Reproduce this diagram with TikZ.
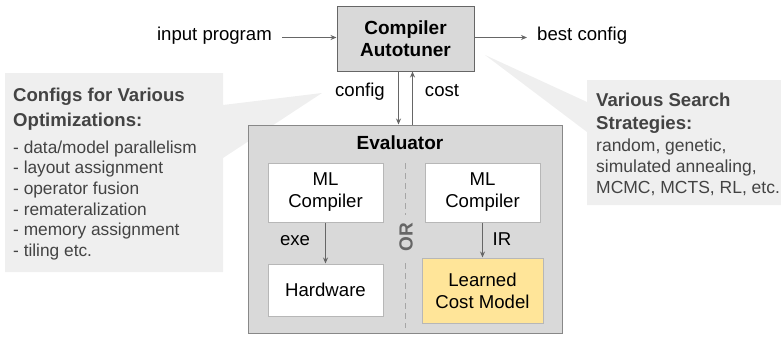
\documentclass[tikz,border=0pt]{standalone}
\usepackage{fontspec}
\setmainfont{Liberation Sans}
\usetikzlibrary{arrows.meta}

\definecolor{boxgray}{HTML}{D9D9D9}
\definecolor{boxline}{HTML}{666666}
\definecolor{evalline}{HTML}{888888}
\definecolor{innerline}{HTML}{B7B7B7}
\definecolor{callgray}{HTML}{EFEFEF}
\definecolor{calltext}{HTML}{434343}
\definecolor{wiregray}{HTML}{666666}
\definecolor{costyellow}{HTML}{FFE599}

\newcommand{\lblfont}{\fontsize{18.6}{22}\selectfont}
\newcommand{\titlefont}{\fontsize{19}{22}\selectfont\bfseries}
\newcommand{\listfont}{\fontsize{17.3}{20.7}\selectfont}

\begin{document}
\begin{tikzpicture}[x=1pt,y=-1pt,
    box/.style={draw=boxline, fill=boxgray, line width=1pt, align=center, inner sep=0pt, font=\lblfont},
    inbox/.style={box, fill=white, draw=innerline, minimum width=115pt},
    wire/.style={draw=wiregray, line width=1pt, -{Stealth[length=6pt,width=5pt]}},
    lbl/.style={font=\lblfont, inner sep=0pt},
    calltxt/.style={inner sep=0pt, align=left, text=calltext}]
  \useasboundingbox (0,0) rectangle (781,337);

  % callout shapes behind everything
  \fill[callgray] (5,73) -- (223,73) -- (223,105) -- (322,93) -- (223,158)
    -- (223,272) -- (5,272) -- cycle;
  \fill[callgray] (587,80) -- (781,80) -- (781,205) -- (587,205) -- (587,132)
    -- (485,55) -- (587,102) -- cycle;

  % autotuner and in/out
  \node[box, minimum width=137pt, minimum height=64pt, font=\titlefont] (tuner) at (405.5,39) {Compiler\\Autotuner};
  \node[lbl, anchor=mid east] (inp) at (272,37.5) {input program};
  \node[lbl, anchor=mid west] (best) at (537,37.5) {best config};
  \draw[wire] ([xshift=10pt]inp.mid east) -- (inp.mid east -| tuner.west);
  \draw[wire] (tuner.east |- best.mid west) -- ([xshift=-10pt]best.mid west);

  % evaluator
  \node[box, draw=evalline, minimum width=314pt, minimum height=208pt] (eval) at (405,229) {};
  \node[lbl, font=\titlefont, anchor=base] (evallbl) at (400,149) {Evaluator};
  \node[inbox, minimum height=59pt] (mlcl) at (325.5,192.5) {ML\\Compiler};
  \node[inbox, minimum height=52pt] (hw) at (325.5,290) {Hardware};
  \node[inbox, minimum height=59pt] (mlcr) at (482.5,192.5) {ML\\Compiler};
  \node[inbox, fill=costyellow, minimum width=121pt, minimum height=65pt] (lcm) at (482.5,290.5) {Learned\\Cost Model};

  \draw[wire] (mlcl) -- (hw);
  \draw[wire] (mlcr) -- (lcm);
  \node[lbl, anchor=base] (exe) at (295,245) {exe};
  \node[lbl, anchor=base] (ir) at (502,245) {IR};

  % OR divider
  \coordinate (ortop) at (405,163);
  \coordinate (orbot) at (405,328);
  \draw[draw=gray!70, line width=1pt, dash pattern=on 6pt off 4pt] (ortop) -- (orbot);
  \node[fill=boxgray, rotate=90, inner xsep=8pt, inner ysep=1pt, text=wiregray, font=\titlefont] (or) at (406,237) {OR};

  % config / cost
  \draw[wire] ([xshift=-7pt]tuner.south) -- ([xshift=-7pt]tuner.south |- eval.north);
  \draw[wire] ([xshift=7pt]tuner.south |- eval.north) -- ([xshift=7pt]tuner.south);
  \node[lbl, anchor=base] (cfg) at (360,96) {config};
  \node[lbl, anchor=base] (cost) at (442,96) {cost};

  % callout texts (base = last line)
  \node[calltxt, font=\fontsize{18.6}{25}\selectfont\bfseries, anchor=base west] (cfgtitle) at (13,126.5) {Configs for Various\\Optimizations:};
  \node[calltxt, font=\listfont, anchor=base west] (cfglist) at (13,256.5) {- data/model parallelism\\- layout assignment\\- operator fusion\\- remateralization\\- memory assignment\\- tiling etc.};
  \node[calltxt, font=\fontsize{18.6}{23}\selectfont\bfseries, anchor=base west] (srchtitle) at (596,129.5) {Various Search\\Strategies:};
  \node[calltxt, font=\fontsize{17.5}{21}\selectfont, anchor=base west] (srchlist) at (596,193.5) {random, genetic,\\simulated annealing,\\MCMC, MCTS, RL, etc.};
\end{tikzpicture}
\end{document}
